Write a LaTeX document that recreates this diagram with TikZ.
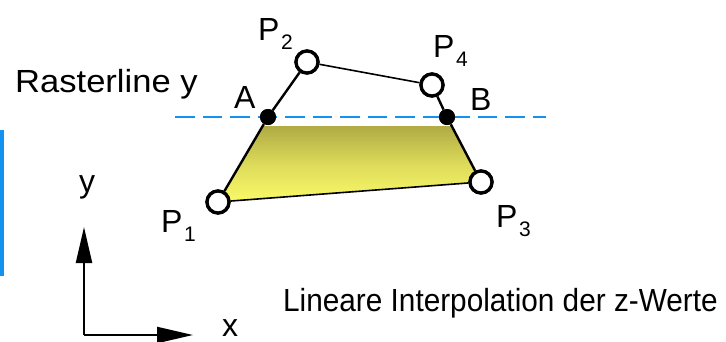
\documentclass[tikz,border=0pt]{standalone}
\usepackage{fontspec}
\setmainfont{Liberation Sans}
\usepackage{graphicx}
\usetikzlibrary{arrows.meta}
\definecolor{rblue}{RGB}{20,146,240}
\definecolor{olivetop}{RGB}{176,171,68}
\definecolor{yellowbot}{RGB}{250,250,104}
\newcommand\Psub[1]{P\kern1.5pt\raisebox{-9pt}{\fontsize{21}{21}\selectfont #1}}
\begin{document}
\begin{tikzpicture}[x=1pt,y=-1pt,
  vertex/.style={circle,draw=black,fill=white,line width=3.3pt,minimum size=22pt,inner sep=0pt},
  dotpt/.style={circle,fill=black,minimum size=16pt,inner sep=0pt},
  lbl/.style={anchor=base west,inner sep=0pt,font=\fontsize{32}{32}\selectfont},
  thickedge/.style={line width=2.4pt},
  thinedge/.style={line width=1.6pt},
  axis/.style={line width=2.2pt,-{Triangle[length=36pt,width=16pt]}},
  raster/.style={draw=rblue,line width=2.8pt,dash pattern=on 19.5pt off 8pt}]
\useasboundingbox (0,0) rectangle (726,341);
% fill
\coordinate (f1) at (218,202);
\coordinate (f2) at (262,126);
\coordinate (f3) at (452,126);
\coordinate (f4) at (481,182);
\shade[top color=olivetop, bottom color=yellowbot, middle color=olivetop!40!yellowbot] (f1) -- (f2) -- (f3) -- (f4) -- cycle;
% rasterline
\coordinate (r0) at (175,117);
\coordinate (r1) at (546,117);
\draw[raster] (r0) -- (r1);
% left blue bar
\coordinate (b0) at (1.8,130);
\coordinate (b1) at (1.8,276);
\draw[rblue,line width=3.6pt] (b0) -- (b1);
% vertices
\node[vertex] (p1) at (218,202) {};
\node[vertex] (p2) at (307,62) {};
\node[vertex] (p3) at (481,182) {};
\node[vertex] (p4) at (432,85) {};
\node[dotpt] (a) at (268,117) {};
\node[dotpt] (b) at (447,117) {};
\draw[thickedge] (p1) -- (a) -- (p2);
\draw[thinedge] (p2) -- (p4);
\draw[thickedge] (p4) -- (b) -- (p3);
\draw[thinedge] (p1) -- (p3);
% redraw nodes on top
\node[vertex] at (p1) {};
\node[vertex] at (p2) {};
\node[vertex] at (p3) {};
\node[vertex] at (p4) {};
\node[dotpt] at (a) {};
\node[dotpt] at (b) {};
% labels
\node[lbl] (lp2) at (258,40) {\Psub{2}};
\node[lbl] (lp4) at (433,57) {\Psub{4}};
\node[lbl] (lp1) at (161,232) {\Psub{1}};
\node[lbl] (lp3) at (496,227) {\Psub{3}};
\node[lbl] (la) at (234,108) {A};
\node[lbl] (lb) at (470,110) {B};
\node[lbl] (ras) at (15,92) {\scalebox{1.08}[1]{Rasterline y}};
\node[lbl] (lin) at (283,311) {\scalebox{0.93}[1]{Lineare Interpolation der z-Werte}};
\node[lbl] (ly) at (79,192) {y};
\node[lbl] (lx) at (222,336) {x};
% axes
\coordinate (o) at (84,335);
\coordinate (ytip) at (84,227);
\coordinate (xtip) at (193,335);
\draw[axis] (o) -- (ytip);
\draw[axis] (o) -- (xtip);
\end{tikzpicture}
\end{document}
